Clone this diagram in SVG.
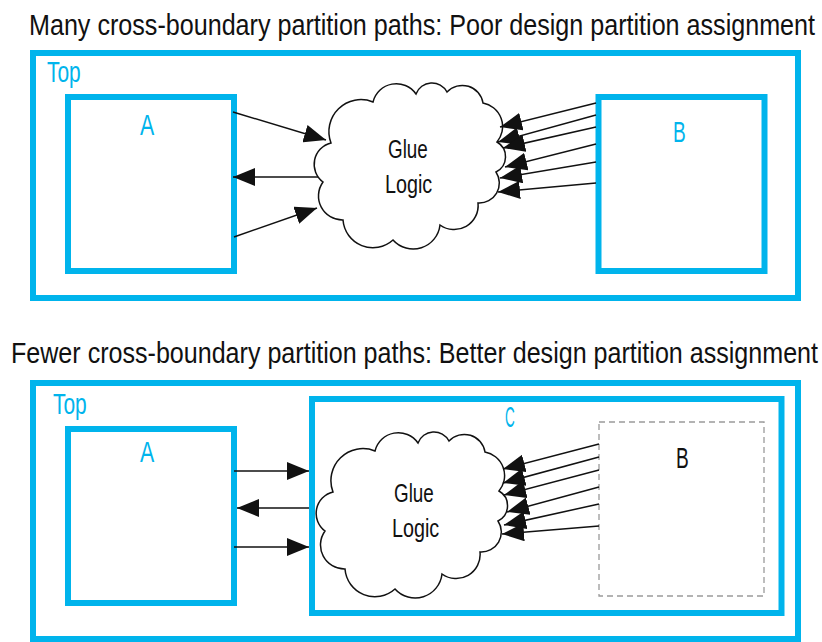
<svg xmlns="http://www.w3.org/2000/svg" width="822" height="642" viewBox="0 0 822 642">
<style>
.frame{fill:none;stroke:#00B4EC;stroke-width:6}
.title{font-family:"Liberation Sans",Arial,sans-serif;font-size:30px;fill:#111}
.lbl{font-family:"Liberation Sans",Arial,sans-serif;font-size:30px;fill:#00B4EC}
.blk{font-family:"Liberation Sans",Arial,sans-serif;font-size:29px;fill:#111}
.glue{font-family:"Liberation Sans",Arial,sans-serif;font-size:26px;fill:#111}
.cloud{fill:#fff;stroke:#111;stroke-width:1.5}
.wire{fill:none;stroke:#111;stroke-width:1.5;marker-end:url(#ah)}
.dash{fill:none;stroke:#9a9a9a;stroke-width:1.3;stroke-dasharray:6 4}
</style>
<defs>
<marker id="ah" markerUnits="userSpaceOnUse" markerWidth="22" markerHeight="18" refX="22" refY="9" orient="auto" viewBox="0 0 22 18">
<path d="M0,0 L22,9 L0,18 z" fill="#111"/>
</marker>
<path id="cloudShape" d="M331,143 A32,32 0 0 1 373,102 A24,24 0 0 1 416,94 A17,17 0 0 1 447,92 A21,21 0 0 1 483,103 A24,24 0 0 1 497,142 A17,17 0 0 1 496,172 A20,20 0 0 1 478,203 A24,24 0 0 1 440,225 A27,27 0 0 1 393,240 A30,30 0 0 1 343,220 A24,24 0 0 1 323,182 A22,22 0 0 1 331,143 Z"/>
</defs>
<rect width="822" height="642" fill="#fff"/>

<!-- Top panel -->
<text class="title" transform="translate(29,35) scale(0.75,1)" x="0" y="0" textLength="1048" lengthAdjust="spacingAndGlyphs">Many cross-boundary partition paths: Poor design partition assignment</text>
<g id="top1">
<rect class="frame" x="33" y="53" width="765" height="245"/>
<text class="lbl" transform="translate(47,82) scale(0.75,1)" x="0" y="0" textLength="45" lengthAdjust="spacingAndGlyphs">Top</text>
</g>
<g id="a1">
<rect class="frame" x="68" y="97" width="166" height="174"/>
<text class="lbl" transform="translate(140,135) scale(0.75,1)" x="0" y="0" textLength="19" lengthAdjust="spacingAndGlyphs">A</text>
</g>
<g id="b1">
<rect class="frame" x="598.5" y="97" width="166" height="174"/>
<text class="lbl" transform="translate(673,142) scale(0.75,1)" x="0" y="0" textLength="17" lengthAdjust="spacingAndGlyphs">B</text>
</g>
<g id="glue1">
<use href="#cloudShape" class="cloud"/>
<text class="glue" transform="translate(388,158) scale(0.75,1)" x="0" y="0" textLength="53" lengthAdjust="spacingAndGlyphs">Glue</text>
<text class="glue" transform="translate(385,193) scale(0.75,1)" x="0" y="0" textLength="63" lengthAdjust="spacingAndGlyphs">Logic</text>
</g>
<g id="wires1">
<path class="wire" d="M233,112 L326,140"/>
<path class="wire" d="M318,177 L233,177"/>
<path class="wire" d="M234,237 L317,208"/>
<path class="wire" d="M596,103 L500,127"/>
<path class="wire" d="M596,115 L498,142"/>
<path class="wire" d="M596,127 L503,148"/>
<path class="wire" d="M596,144 L505,167"/>
<path class="wire" d="M596,162 L500,178"/>
<path class="wire" d="M596,183 L498,192"/>
</g>

<!-- Bottom panel -->
<text class="title" transform="translate(11,363) scale(0.75,1)" x="0" y="0" textLength="1076" lengthAdjust="spacingAndGlyphs">Fewer cross-boundary partition paths: Better design partition assignment</text>
<g id="top2">
<rect class="frame" x="33" y="383" width="765" height="256"/>
<text class="lbl" transform="translate(53,414) scale(0.75,1)" x="0" y="0" textLength="45" lengthAdjust="spacingAndGlyphs">Top</text>
</g>
<g id="a2">
<rect class="frame" x="68" y="429" width="166" height="174"/>
<text class="lbl" transform="translate(140,462) scale(0.75,1)" x="0" y="0" textLength="19" lengthAdjust="spacingAndGlyphs">A</text>
</g>
<g id="c2">
<rect class="frame" x="312" y="399" width="469.5" height="214"/>
<text class="lbl" transform="translate(505,427) scale(0.75,1)" x="0" y="0" textLength="13" lengthAdjust="spacingAndGlyphs">C</text>
</g>
<g id="b2">
<rect class="dash" x="599" y="422" width="165" height="174"/>
<text class="blk" transform="translate(676,468) scale(0.75,1)" x="0" y="0" textLength="17" lengthAdjust="spacingAndGlyphs">B</text>
</g>
<g id="glue2">
<use href="#cloudShape" class="cloud" transform="translate(2,349)"/>
<text class="glue" transform="translate(394,502) scale(0.75,1)" x="0" y="0" textLength="53" lengthAdjust="spacingAndGlyphs">Glue</text>
<text class="glue" transform="translate(392,537) scale(0.75,1)" x="0" y="0" textLength="63" lengthAdjust="spacingAndGlyphs">Logic</text>
</g>
<g id="wires2">
<path class="wire" d="M234,471 L309,471"/>
<path class="wire" d="M309,508 L237,508"/>
<path class="wire" d="M234,547 L309,547"/>
<path class="wire" d="M599,444 L503,469"/>
<path class="wire" d="M599,457 L503,483"/>
<path class="wire" d="M599,470 L504,495"/>
<path class="wire" d="M599,487 L507,512"/>
<path class="wire" d="M599,504 L504,525"/>
<path class="wire" d="M599,526 L502,534"/>
</g>
</svg>
